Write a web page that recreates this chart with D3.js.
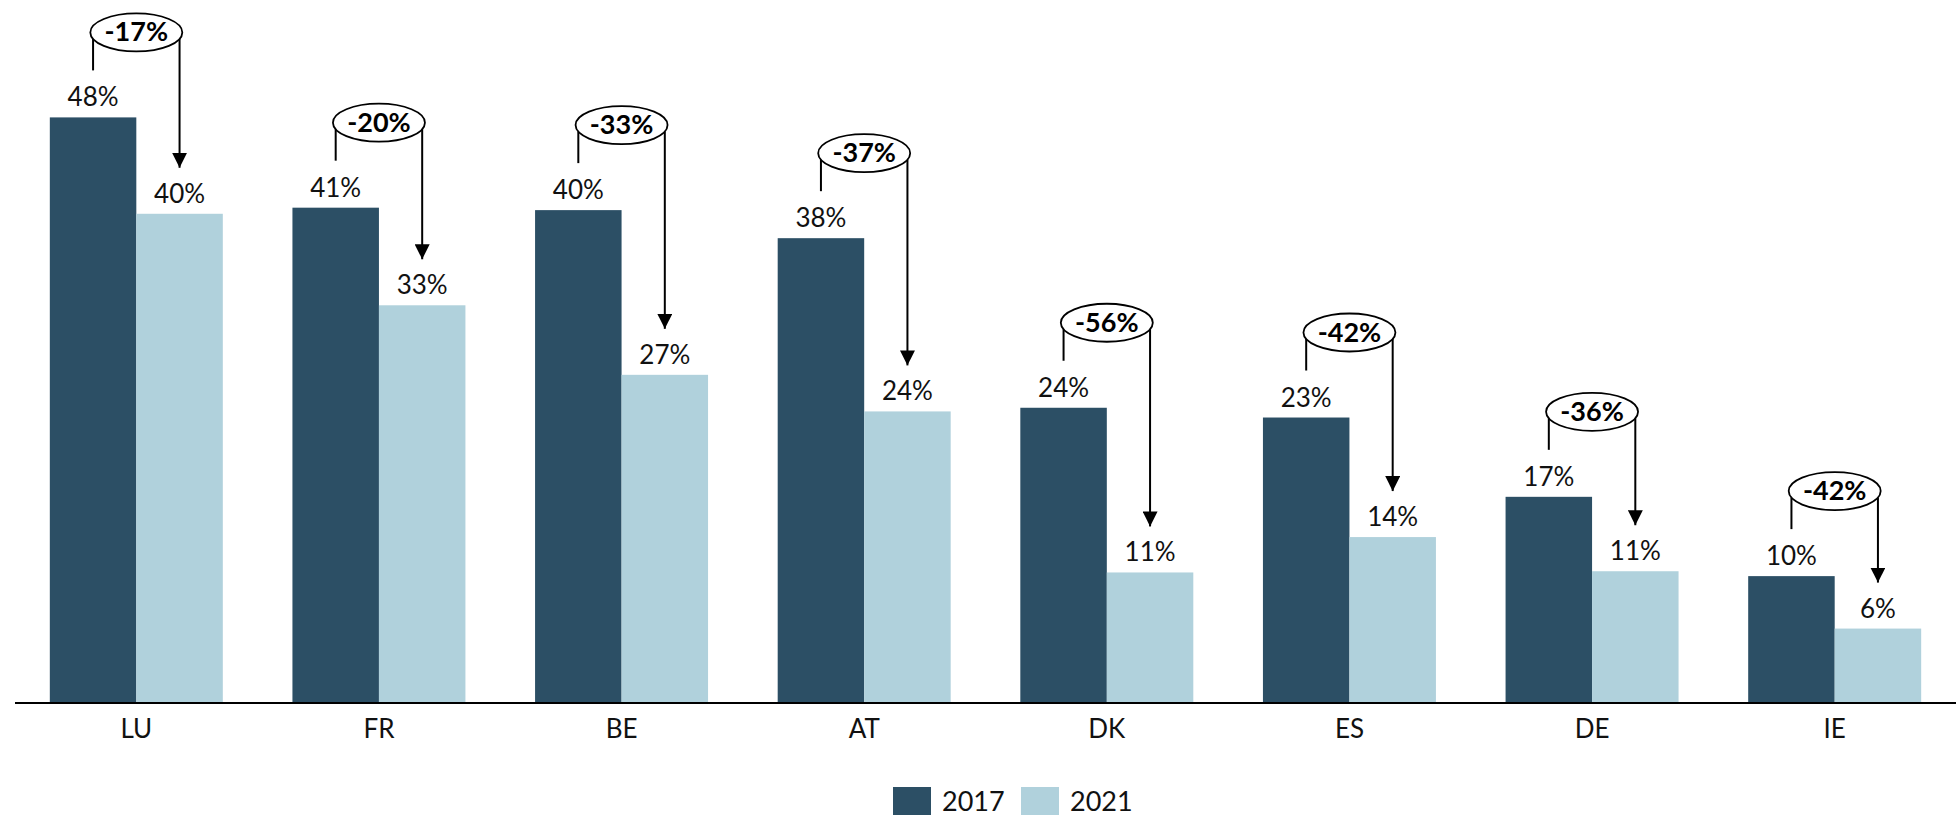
<!DOCTYPE html>
<html>
<head>
<meta charset="utf-8">
<script src="https://cdn.jsdelivr.net/npm/d3@7"></script>
<style>
  body { margin: 0; background: #fff; }
  svg { display: block; font-family: Lato, "Liberation Sans", sans-serif; }
</style>
</head>
<body>
<svg id="chart" width="1956" height="815"></svg>
<script>
// data
const categories = ["LU", "FR", "BE", "AT", "DK", "ES", "DE", "IE"]
const years = ["2017", "2021"]
const values2017 = [48.0, 40.6, 40.4, 38.1, 24.2, 23.4, 16.9, 10.4]
const values2021 = [40.1, 32.6, 26.9, 23.9, 10.7, 13.6, 10.8, 6.1]
const changeLabels = ["-17%", "-20%", "-33%", "-37%", "-56%", "-42%", "-36%", "-42%"]
const colors = ["#2c4f65", "#b0d1dc"]

const svg = d3.select("#chart")
const baseY = 703

const x = d3.scaleBand()
    .domain(categories)
    .range([15, 1956])
    .paddingInner(0.287)
    .paddingOuter(0.1435)

const xIn = d3.scaleBand()
    .domain(years)
    .range([0, x.bandwidth()])

const y = d3.scaleLinear()
    .domain([0, 48])
    .range([baseY, 117.4])

const color = d3.scaleOrdinal().domain(years).range(colors)
const fmt = v => d3.format(".0f")(v) + "%"

const rows = categories.map((c, i) => ({
    cat: c,
    vals: [
        { year: "2017", value: values2017[i] },
        { year: "2021", value: values2021[i] }
    ],
    change: changeLabels[i]
}))

svg.append("defs").append("marker")
    .attr("id", "arrow")
    .attr("viewBox", "0 0 10 10")
    .attr("refX", 10)
    .attr("refY", 5)
    .attr("markerUnits", "userSpaceOnUse")
    .attr("markerWidth", 15)
    .attr("markerHeight", 15)
    .attr("orient", "auto")
  .append("path")
    .attr("d", "M0,0 L10,5 L0,10 Z")
    .attr("fill", "#000")

const group = svg.append("g")
  .selectAll("g")
  .data(rows)
  .join("g")
    .attr("transform", d => `translate(${x(d.cat)},0)`)

group.selectAll("rect")
  .data(d => d.vals)
  .join("rect")
    .attr("x", d => xIn(d.year))
    .attr("y", d => y(d.value))
    .attr("width", xIn.bandwidth())
    .attr("height", d => baseY - y(d.value))
    .attr("fill", d => color(d.year))

group.selectAll("text.val")
  .data(d => d.vals)
  .join("text")
    .attr("class", "val")
    .attr("x", d => xIn(d.year) + xIn.bandwidth() / 2)
    .attr("y", d => y(d.value) - 11)
    .attr("text-anchor", "middle")
    .attr("font-size", 26)
    .attr("fill", "#111")
    .text(d => fmt(d.value))

// change callouts
const rx = 46, ry = 19
group.each(function (d) {
    const g = d3.select(this)
    const cx = x.bandwidth() / 2
    const yDark = y(d.vals[0].value)
    const yLight = y(d.vals[1].value)
    const cy = yDark - 85
    const xl = xIn("2017") + xIn.bandwidth() / 2
    const xr = xIn("2021") + xIn.bandwidth() / 2
    const edge = dx => cy + ry * Math.sqrt(Math.max(0, 1 - (dx / rx) ** 2))

    g.append("line")
        .attr("x1", xl).attr("x2", xl)
        .attr("y1", edge(xl - cx)).attr("y2", yDark - 47)
        .attr("stroke", "#000").attr("stroke-width", 2)

    g.append("line")
        .attr("x1", xr).attr("x2", xr)
        .attr("y1", edge(xr - cx)).attr("y2", yLight - 46)
        .attr("stroke", "#000").attr("stroke-width", 2)
        .attr("marker-end", "url(#arrow)")

    g.append("ellipse")
        .attr("cx", cx).attr("cy", cy)
        .attr("rx", rx).attr("ry", ry)
        .attr("fill", "#fff")
        .attr("stroke", "#000").attr("stroke-width", 1.8)

    g.append("text")
        .attr("x", cx).attr("y", cy + 9)
        .attr("text-anchor", "middle")
        .attr("font-size", 27)
        .attr("font-weight", "bold")
        .attr("fill", "#000")
        .text(d.change)
})

// axis
svg.append("line")
    .attr("x1", 15).attr("x2", 1956)
    .attr("y1", baseY).attr("y2", baseY)
    .attr("stroke", "#000").attr("stroke-width", 2)

svg.append("g")
  .selectAll("text")
  .data(categories)
  .join("text")
    .attr("x", d => x(d) + x.bandwidth() / 2)
    .attr("y", 738)
    .attr("text-anchor", "middle")
    .attr("font-size", 26)
    .attr("fill", "#111")
    .text(d => d)

// legend
const legendX = [893, 1021]
const legend = svg.append("g")
  .selectAll("g")
  .data(years)
  .join("g")
    .attr("transform", (d, i) => `translate(${legendX[i]},787)`)

legend.append("rect")
    .attr("width", 38).attr("height", 38)
    .attr("fill", d => color(d))

legend.append("text")
    .attr("x", 49).attr("y", 24)
    .attr("font-size", 27)
    .attr("fill", "#111")
    .text(d => d)
</script>
</body>
</html>
